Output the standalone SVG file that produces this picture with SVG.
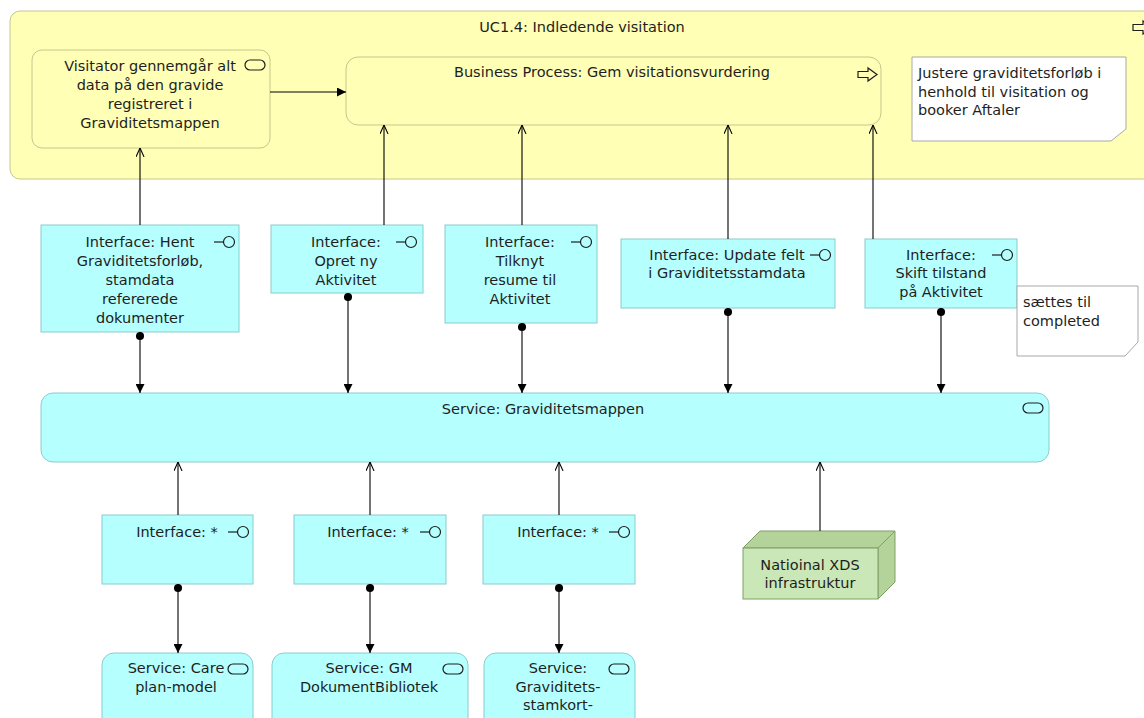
<svg xmlns="http://www.w3.org/2000/svg" width="1144" height="718" viewBox="0 0 1144 718">
  <style>
    text { font-family: "DejaVu Sans", "Liberation Sans", sans-serif; font-size: 14.5px; fill: #1e1e1e; }
    .c { text-anchor: middle; }
    .biz { fill: #ffffb5; stroke: #c6c68e; stroke-width: 1; }
    .app { fill: #b5ffff; stroke: #8ccccc; stroke-width: 1; }
    .note { fill: #ffffff; stroke: #a8a8a8; stroke-width: 1; }
    .icon { fill: none; stroke: #1e1e1e; stroke-width: 1.2; }
    .conn { fill: none; stroke: #000000; stroke-width: 1.1; }
    .tech-front { fill: #c9e7b7; stroke: #7f9f66; stroke-width: 1; }
    .tech-side { fill: #b3d39b; stroke: #7f9f66; stroke-width: 1; }
  </style>
  <defs>
    <marker id="arrowFilled" viewBox="0 0 10 10" refX="10" refY="5" markerWidth="9" markerHeight="9" markerUnits="userSpaceOnUse" orient="auto">
      <path d="M0,0 L10,5 L0,10 z" fill="#000"/>
    </marker>
    <marker id="arrowOpen" viewBox="0 0 10 10" refX="10" refY="5" markerWidth="9" markerHeight="9" markerUnits="userSpaceOnUse" orient="auto">
      <path d="M0,0.5 L10,5 L0,9.5" fill="none" stroke="#000" stroke-width="1.2"/>
    </marker>
    <marker id="dot" viewBox="0 0 10 10" refX="5" refY="5" markerWidth="9" markerHeight="9" markerUnits="userSpaceOnUse" orient="auto">
      <circle cx="5" cy="5" r="4.5" fill="#000"/>
    </marker>
    <!-- interface lollipop icon, anchored at circle centre -->
    <g id="ifaceIcon">
      <line x1="-15" y1="0" x2="-5" y2="0" stroke="#1e1e1e" stroke-width="1.2"/>
      <circle cx="0" cy="0" r="5.5" fill="none" stroke="#1e1e1e" stroke-width="1.2"/>
    </g>
    <!-- service icon, anchored at top-left -->
    <rect id="serviceIcon" x="0" y="0" width="20" height="10" rx="5" ry="5" fill="none" stroke="#1e1e1e" stroke-width="1.2"/>
  </defs>

  <!-- Use case container -->
  <g id="uc14">
    <rect class="biz" x="10" y="11" width="1160" height="168" rx="10" ry="10"/>
    <text class="c" x="582" y="32">UC1.4: Indledende visitation</text>
    <polygon class="icon" points="1133,24.5 1143,24.5 1143,21 1152,27.5 1143,34 1143,30.5 1133,30.5" fill="none"/>
  </g>

  <g id="visitator">
    <rect class="biz" x="32" y="50" width="238" height="98" rx="10" ry="10"/>
    <use href="#serviceIcon" x="245" y="60"/>
    <text class="c" x="150" y="71">Visitator gennemgår alt</text>
    <text class="c" x="150" y="90">data på den gravide</text>
    <text class="c" x="150" y="109">registreret i</text>
    <text class="c" x="150" y="128">Graviditetsmappen</text>
  </g>

  <g id="business-process">
    <rect class="biz" x="346" y="57" width="535" height="68" rx="12" ry="12"/>
    <text class="c" x="612" y="77">Business Process: Gem visitationsvurdering</text>
    <polygon class="icon" points="858,71.5 868,71.5 868,68 877,74.5 868,81 868,77.5 858,77.5"/>
  </g>

  <g id="note-justere">
    <polygon class="note" points="912,57 1126,57 1126,129 1111,141 912,141"/>
    <text x="918" y="78">Justere graviditetsforløb i</text>
    <text x="918" y="97">henhold til visitation og</text>
    <text x="918" y="115">booker Aftaler</text>
  </g>

  <!-- Interfaces towards the process -->
  <g id="iface-hent">
    <rect class="app" x="41" y="225" width="198" height="107"/>
    <use href="#ifaceIcon" x="229" y="242"/>
    <text class="c" x="140" y="247">Interface: Hent</text>
    <text class="c" x="140" y="266">Graviditetsforløb,</text>
    <text class="c" x="140" y="285">stamdata</text>
    <text class="c" x="140" y="304">refererede</text>
    <text class="c" x="140" y="323">dokumenter</text>
  </g>

  <g id="iface-opret">
    <rect class="app" x="271" y="225" width="152" height="68"/>
    <use href="#ifaceIcon" x="411" y="242"/>
    <text class="c" x="346" y="247">Interface:</text>
    <text class="c" x="346" y="266">Opret ny</text>
    <text class="c" x="346" y="285">Aktivitet</text>
  </g>

  <g id="iface-tilknyt">
    <rect class="app" x="445" y="225" width="152" height="98"/>
    <use href="#ifaceIcon" x="586" y="242"/>
    <text class="c" x="520" y="247">Interface:</text>
    <text class="c" x="520" y="266">Tilknyt</text>
    <text class="c" x="520" y="285">resume til</text>
    <text class="c" x="520" y="304">Aktivitet</text>
  </g>

  <g id="iface-update">
    <rect class="app" x="621" y="239" width="214" height="69"/>
    <use href="#ifaceIcon" x="825" y="255"/>
    <text class="c" x="727" y="260">Interface: Update felt</text>
    <text class="c" x="727" y="278">i Graviditetsstamdata</text>
  </g>

  <g id="iface-skift">
    <rect class="app" x="865" y="239" width="152" height="69"/>
    <use href="#ifaceIcon" x="1007" y="255"/>
    <text class="c" x="941" y="260">Interface:</text>
    <text class="c" x="941" y="278">Skift tilstand</text>
    <text class="c" x="941" y="297">på Aktivitet</text>
  </g>

  <g id="note-completed">
    <polygon class="note" points="1017,286 1138,286 1138,342 1125,356 1017,356"/>
    <text x="1023" y="307">sættes til</text>
    <text x="1023" y="326">completed</text>
  </g>

  <g id="service-graviditetsmappen">
    <rect class="app" x="41" y="393" width="1008" height="69" rx="12" ry="12"/>
    <use href="#serviceIcon" x="1023" y="403"/>
    <text class="c" x="543" y="414">Service: Graviditetsmappen</text>
  </g>

  <!-- Supporting interfaces -->
  <g id="iface-star-1">
    <rect class="app" x="102" y="515" width="151" height="69"/>
    <use href="#ifaceIcon" x="243" y="532"/>
    <text class="c" x="177" y="537">Interface: *</text>
  </g>
  <g id="iface-star-2">
    <rect class="app" x="294" y="515" width="152" height="69"/>
    <use href="#ifaceIcon" x="435" y="532"/>
    <text class="c" x="368" y="537">Interface: *</text>
  </g>
  <g id="iface-star-3">
    <rect class="app" x="483" y="515" width="152" height="69"/>
    <use href="#ifaceIcon" x="624" y="532"/>
    <text class="c" x="558" y="537">Interface: *</text>
  </g>

  <g id="node-xds">
    <polygon class="tech-side" points="743,548 760,531 895,531 878,548"/>
    <polygon class="tech-side" points="878,548 895,531 895,582 878,599"/>
    <rect class="tech-front" x="743" y="548" width="135" height="51"/>
    <text class="c" x="810" y="570">Natioinal XDS</text>
    <text class="c" x="810" y="588">infrastruktur</text>
  </g>

  <!-- Supporting services -->
  <g id="service-careplan">
    <rect class="app" x="102" y="653" width="151" height="80" rx="12" ry="12"/>
    <use href="#serviceIcon" x="228" y="664"/>
    <text class="c" x="176" y="673">Service: Care</text>
    <text class="c" x="176" y="692">plan-model</text>
  </g>
  <g id="service-gm">
    <rect class="app" x="272" y="653" width="196" height="80" rx="12" ry="12"/>
    <use href="#serviceIcon" x="443" y="664"/>
    <text class="c" x="369" y="673">Service: GM</text>
    <text class="c" x="369" y="692">DokumentBibliotek</text>
  </g>
  <g id="service-stamkort">
    <rect class="app" x="484" y="653" width="151" height="80" rx="12" ry="12"/>
    <use href="#serviceIcon" x="609" y="664"/>
    <text class="c" x="558" y="673">Service:</text>
    <text class="c" x="558" y="692">Graviditets-</text>
    <text class="c" x="558" y="710">stamkort-</text>
  </g>

  <!-- Connectors -->
  <g id="connectors">
    <!-- triggering -->
    <path class="conn" d="M270,92 L346,92" marker-end="url(#arrowFilled)"/>
    <!-- serving, up into the process layer -->
    <path class="conn" d="M140,225 L140,148" marker-end="url(#arrowOpen)"/>
    <path class="conn" d="M384,225 L384,125" marker-end="url(#arrowOpen)"/>
    <path class="conn" d="M522,225 L522,125" marker-end="url(#arrowOpen)"/>
    <path class="conn" d="M728,239 L728,125" marker-end="url(#arrowOpen)"/>
    <path class="conn" d="M873,239 L873,125" marker-end="url(#arrowOpen)"/>
    <!-- assignment, interfaces to Graviditetsmappen -->
    <path class="conn" d="M140,336 L140,393" marker-start="url(#dot)" marker-end="url(#arrowFilled)"/>
    <path class="conn" d="M348,297 L348,393" marker-start="url(#dot)" marker-end="url(#arrowFilled)"/>
    <path class="conn" d="M522,327 L522,393" marker-start="url(#dot)" marker-end="url(#arrowFilled)"/>
    <path class="conn" d="M728,312 L728,393" marker-start="url(#dot)" marker-end="url(#arrowFilled)"/>
    <path class="conn" d="M941,312 L941,393" marker-start="url(#dot)" marker-end="url(#arrowFilled)"/>
    <!-- serving, up into Graviditetsmappen -->
    <path class="conn" d="M178,515 L178,462" marker-end="url(#arrowOpen)"/>
    <path class="conn" d="M370,515 L370,462" marker-end="url(#arrowOpen)"/>
    <path class="conn" d="M559,515 L559,462" marker-end="url(#arrowOpen)"/>
    <path class="conn" d="M820,531 L820,462" marker-end="url(#arrowOpen)"/>
    <!-- assignment, interfaces to supporting services -->
    <path class="conn" d="M178,588 L178,653" marker-start="url(#dot)" marker-end="url(#arrowFilled)"/>
    <path class="conn" d="M370,588 L370,653" marker-start="url(#dot)" marker-end="url(#arrowFilled)"/>
    <path class="conn" d="M559,588 L559,653" marker-start="url(#dot)" marker-end="url(#arrowFilled)"/>
  </g>
</svg>
